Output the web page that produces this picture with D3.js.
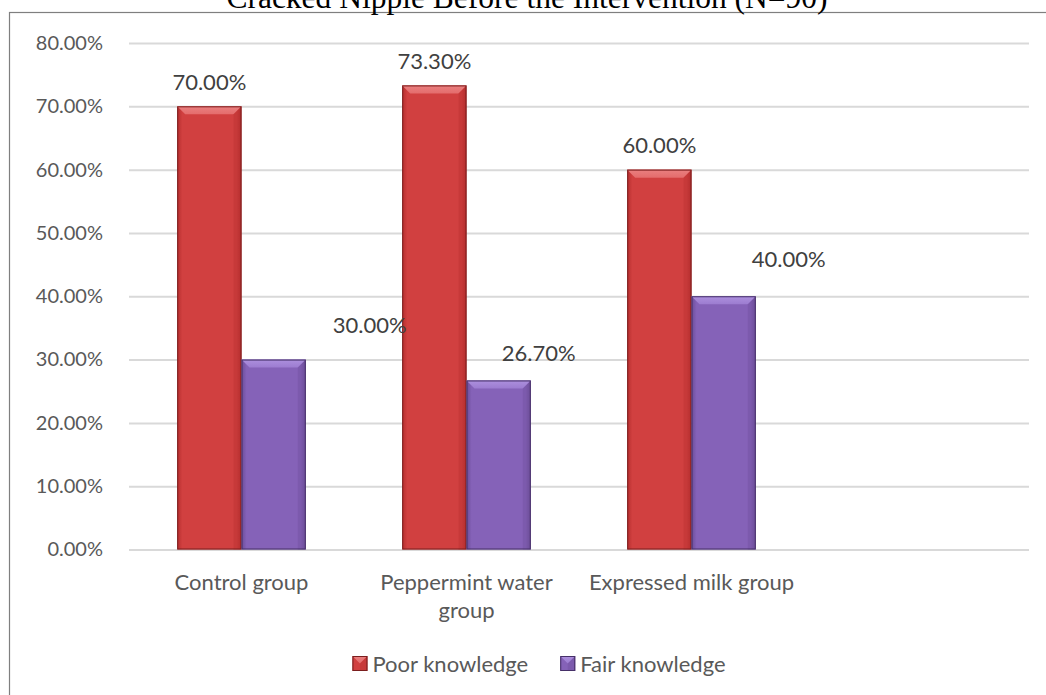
<!DOCTYPE html>
<html>
<head>
<meta charset="utf-8">
<script src="https://cdn.jsdelivr.net/npm/d3@7"></script>
<style>
  body { margin: 0; background: #fff; }
  text { font-family: Lato, "Open Sans", sans-serif; }
</style>
</head>
<body>
<svg id="chart" width="1046" height="695"></svg>
<script>
const TITLE = 'Cracked Nipple Before the Intervention (N=90)';
const categories = ['Control group', 'Peppermint water group', 'Expressed milk group'];
const seriesNames = ['Poor knowledge', 'Fair knowledge'];
const poorValues = [70.0, 73.3, 60.0];
const fairValues = [30.0, 26.7, 40.0];
const yTicks = [0, 10, 20, 30, 40, 50, 60, 70, 80];

// label nudges (the data labels were dragged by hand in the original)
const labelNudge = {
  'Poor knowledge': [[0, 0], [0, 0], [0, 0]],
  'Fair knowledge': [[96, -10], [40, -3], [65, -13]],
};

const palettes = {
  'Poor knowledge': {
    base: '#d14040', light: '#e46c6c', top: '#ea8080', dark: '#b52e2e', stroke: '#7a1e1e',
  },
  'Fair knowledge': {
    base: '#8562b8', light: '#9c7cd0', top: '#ad90de', dark: '#6c4d99', stroke: '#463068',
  },
};

const svg = d3.select('#chart');
const width = 1046;
const height = 695;

// frame of the chart area
svg.append('rect')
  .attr('x', 9.5).attr('y', 12.5)
  .attr('width', width).attr('height', height)
  .attr('fill', '#fff')
  .attr('stroke', '#7f7f7f')
  .attr('stroke-width', 1.2);

svg.append('text')
  .attr('x', 527).attr('y', 8)
  .attr('text-anchor', 'middle')
  .style('font-family', '"Liberation Serif", "Times New Roman", serif')
  .style('font-size', '31.5px')
  .attr('fill', '#000')
  .text(TITLE);

const plotLeft = 129;
const plotRight = 1029;
const x = d3.scaleBand().domain(categories).range([plotLeft, plotLeft + 675]);
const x1 = d3.scaleBand().domain(seriesNames).range([0, x.bandwidth()])
  .paddingInner(0).paddingOuter(0.75);
const y = d3.scaleLinear().domain([0, 80]).range([549.5, 43]);

// gridlines + y tick labels
const yAxis = d3.axisLeft(y).tickValues(yTicks)
  .tickSize(-(plotRight - plotLeft))
  .tickPadding(26)
  .tickFormat((d) => `${d.toFixed(2)}%`);
const gy = svg.append('g')
  .attr('transform', `translate(${plotLeft},0)`)
  .call(yAxis);
gy.select('.domain').remove();
gy.selectAll('.tick line').attr('stroke', '#d9d9d9').attr('stroke-width', 2);
gy.selectAll('.tick text')
  .attr('fill', '#595959')
  .style('font-size', '20px');

// x axis labels
const gx = svg.append('g')
  .attr('transform', `translate(0,${y(0)})`)
  .call(d3.axisBottom(x).tickSize(0).tickPadding(0));
gx.select('.domain').remove();
gx.selectAll('.tick text')
  .attr('fill', '#595959')
  .style('font-size', '22px')
  .attr('dy', 0)
  .call(wrap, x.bandwidth() - 4);

function wrap(texts, maxWidth) {
  texts.each(function () {
    const t = d3.select(this);
    const words = t.text().split(' ');
    t.text(null);
    let line = [];
    let lineNo = 0;
    let tspan = t.append('tspan').attr('x', 0).attr('y', 40);
    words.forEach((w) => {
      line.push(w);
      tspan.text(line.join(' '));
      if (tspan.node().getComputedTextLength() > maxWidth && line.length > 1) {
        line.pop();
        tspan.text(line.join(' '));
        line = [w];
        lineNo += 1;
        tspan = t.append('tspan').attr('x', 0).attr('y', 40 + lineNo * 28).text(w);
      }
    });
  });
}

// bevelled bars
const defs = svg.append('defs');
Object.keys(palettes).forEach((name, i) => {
  const p = palettes[name];
  const grad = defs.append('linearGradient')
    .attr('id', `face${i}`)
    .attr('x1', '0').attr('x2', '1').attr('y1', '0').attr('y2', '0');
  grad.append('stop').attr('offset', '0').attr('stop-color', p.dark);
  grad.append('stop').attr('offset', '0.08').attr('stop-color', p.base);
  grad.append('stop').attr('offset', '0.5').attr('stop-color', p.base);
  grad.append('stop').attr('offset', '0.92').attr('stop-color', p.base);
  grad.append('stop').attr('offset', '1').attr('stop-color', p.dark);
  const topGrad = defs.append('linearGradient')
    .attr('id', `top${i}`)
    .attr('x1', '0').attr('x2', '0').attr('y1', '0').attr('y2', '1');
  topGrad.append('stop').attr('offset', '0').attr('stop-color', p.top);
  topGrad.append('stop').attr('offset', '1').attr('stop-color', p.light);
});

function drawBar(g, bx, by, bw, bh, name) {
  const p = palettes[name];
  const idx = seriesNames.indexOf(name);
  const b = Math.min(8, bh / 2);
  g.append('rect')
    .attr('x', bx).attr('y', by).attr('width', bw).attr('height', bh)
    .attr('fill', `url(#face${idx})`);
  g.append('path')
    .attr('d', `M${bx},${by} L${bx + bw},${by} L${bx + bw - b},${by + b} L${bx + b},${by + b} Z`)
    .attr('fill', `url(#top${idx})`);
  g.append('path')
    .attr('d', `M${bx + bw},${by} L${bx + bw - b},${by + b} L${bx + bw - b},${by + bh} L${bx + bw},${by + bh} Z`)
    .attr('fill', p.dark).attr('opacity', 0.35);
  g.append('rect')
    .attr('x', bx + 0.5).attr('y', by + 0.5).attr('width', bw - 1).attr('height', bh - 1)
    .attr('fill', 'none')
    .attr('stroke', p.stroke)
    .attr('stroke-width', 1);
}

const seriesValues = { 'Poor knowledge': poorValues, 'Fair knowledge': fairValues };
const bars = svg.append('g');
const labels = svg.append('g');
seriesNames.forEach((name) => {
  seriesValues[name].forEach((v, i) => {
    const bx = x(categories[i]) + x1(name);
    const by = y(v);
    drawBar(bars, bx, by, x1.bandwidth(), y(0) - by, name);
    const [dx, dy] = labelNudge[name][i];
    labels.append('text')
      .attr('x', bx + x1.bandwidth() / 2 + dx)
      .attr('y', by - 25 + dy)
      .attr('text-anchor', 'middle')
      .attr('dominant-baseline', 'central')
      .attr('fill', '#404040')
      .style('font-size', '22px')
      .text(`${v.toFixed(2)}%`);
  });
});

// legend
const legend = svg.append('g');
let lx = 0;
seriesNames.forEach((name, i) => {
  const item = legend.append('g').attr('transform', `translate(${lx},0)`);
  drawBar(item, 0, -7, 15, 15, name);
  const t = item.append('text')
    .attr('x', 20).attr('y', 0)
    .attr('dominant-baseline', 'central')
    .attr('fill', '#595959')
    .style('font-size', '22px')
    .text(name);
  lx += 20 + t.node().getComputedTextLength() + 32;
});
const legendWidth = lx - 32;
legend.attr('transform', `translate(${539 - legendWidth / 2},663)`);
</script>
</body>
</html>
